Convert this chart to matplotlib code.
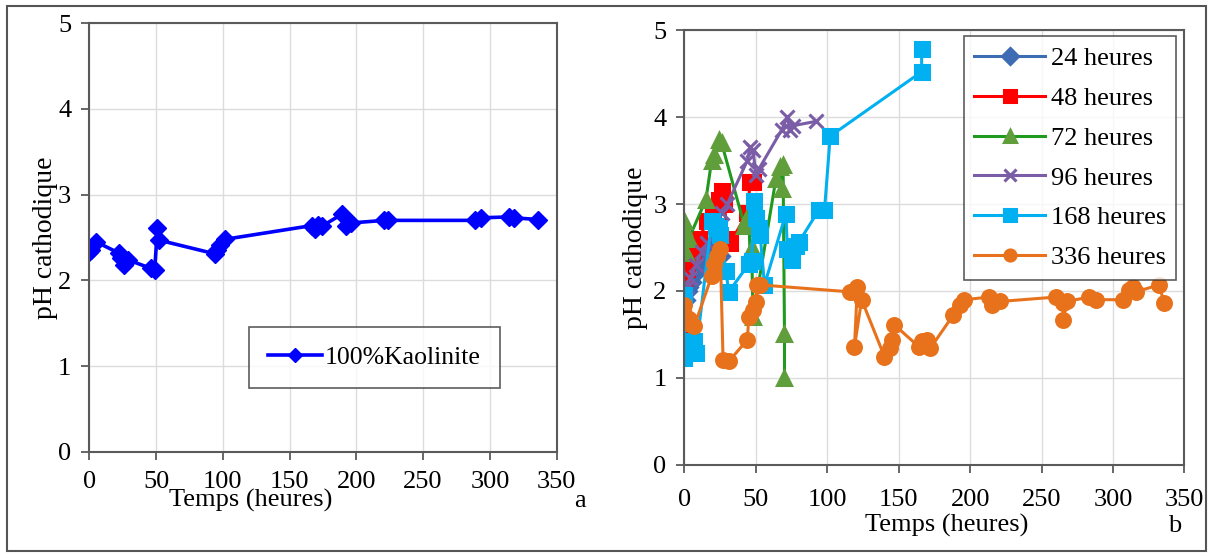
import matplotlib.pyplot as plt
from matplotlib.patches import Rectangle

plt.rcParams['font.family'] = ['Liberation Serif', 'DejaVu Serif']

# panel a : 100% kaolinite
kao_t = [0, 1, 5, 22, 24, 26, 29, 46, 49, 51, 52, 94, 96, 98, 102, 167, 169, 171, 174,
         189, 192, 196, 221, 224, 289, 293, 314, 318, 336]
kao_ph = [2.33, 2.36, 2.45, 2.32, 2.26, 2.18, 2.24, 2.14, 2.12, 2.61, 2.47, 2.31, 2.36, 2.41,
          2.48, 2.64, 2.60, 2.65, 2.63, 2.77, 2.64, 2.67, 2.70, 2.70, 2.70, 2.73, 2.74, 2.73, 2.71]

# panel b : durations
t24 = [0, 1, 2, 4, 6, 10, 14, 18, 20, 22, 24]
ph24 = [1.9, 2.0, 2.05, 2.1, 2.2, 2.3, 2.4, 2.5, 2.35, 2.3, 2.4]

t48 = [0, 0, 2, 4, 6, 10, 16, 20, 24, 26, 28, 30, 32, 44, 46, 48]
ph48 = [1.45, 2.1, 2.25, 2.4, 2.45, 2.6, 2.8, 2.9, 3.05, 3.15, 3.0, 2.6, 2.55, 2.9, 3.25, 3.25]

t72 = [0, 0, 1, 1, 3, 15, 19, 21, 24, 26, 42, 43, 45, 46, 47, 48, 64, 67, 68, 69, 70, 70]
ph72 = [2.8, 2.72, 2.64, 2.44, 2.6, 3.05, 3.5, 3.56, 3.74, 3.7, 2.75, 2.82, 2.88, 2.36, 2.5, 1.7,
        3.29, 3.42, 3.17, 3.45, 1.5, 1.0]

t96 = [0, 2, 4, 8, 12, 16, 22, 26, 30, 44, 46, 48, 50, 52, 68, 72, 74, 76, 92]
ph96 = [2.0, 2.05, 2.15, 2.3, 2.45, 2.55, 2.7, 2.9, 3.0, 3.5, 3.66, 3.62, 3.33, 3.4, 3.85, 4.0,
        3.85, 3.9, 3.95]

t168 = [0, 0, 1, 2, 7, 8, 19, 22, 24, 25, 29, 31, 45, 47, 49, 50, 52, 53, 56, 71, 72, 75, 78,
        80, 94, 98, 102, 166, 166]
ph168 = [1.95, 1.23, 1.42, 1.3, 1.42, 1.29, 2.8, 2.75, 2.72, 2.64, 2.23, 1.99, 2.31, 2.35, 3.03,
         2.84, 2.72, 2.64, 2.07, 2.89, 2.48, 2.36, 2.52, 2.56, 2.93, 2.93, 3.78, 4.52, 4.78]

t336 = [0, 0, 3, 4, 7, 19, 21, 23, 25, 27, 31, 44, 45, 48, 50, 51, 53, 116, 119, 121, 119, 124,
        140, 144, 145, 147, 164, 166, 170, 172, 188, 193, 196, 213, 215, 221, 260, 265, 265, 268,
        283, 288, 307, 311, 314, 316, 332, 336]
ph336 = [1.84, 1.74, 1.68, 1.62, 1.6, 2.17, 2.31, 2.4, 2.48, 1.21, 1.19, 1.44, 1.7, 1.78, 1.87,
         2.07, 2.07, 1.99, 1.99, 2.05, 1.36, 1.9, 1.245, 1.34, 1.44, 1.61, 1.36, 1.42, 1.44, 1.34,
         1.72, 1.84, 1.9, 1.93, 1.84, 1.88, 1.93, 1.86, 1.67, 1.88, 1.93, 1.9, 1.9, 2.01, 2.05,
         1.99, 2.07, 1.86]

series_b = [
    (t24, ph24, '24 heures', '#3d6cb4', 'D', '#3d6cb4'),
    (t48, ph48, '48 heures', '#ff0000', 's', '#ff0000'),
    (t72, ph72, '72 heures', '#1f9a1f', '^', '#5f9e3a'),
    (t96, ph96, '96 heures', '#7b5ca6', 'x', '#7b5ca6'),
    (t168, ph168, '168 heures', '#00b0f0', 's', '#00b0f0'),
    (t336, ph336, '336 heures', '#e8721c', 'o', '#e8721c'),
]

fs = 19
fig = plt.figure(figsize=(12.13, 5.58), dpi=100)
fig.patches.append(Rectangle((0.006, 0.013), 0.988, 0.976, transform=fig.transFigure,
                             fill=False, ec='#555555', lw=1.5))


def style(ax, pad):
    ax.set_xlim(0, 350)
    ax.set_ylim(0, 5)
    ax.set_xticks(range(0, 351, 50))
    ax.set_yticks(range(0, 6))
    ax.grid(True, color='#dcdcdc', lw=1)
    ax.set_axisbelow(True)
    for s in ax.spines.values():
        s.set_color('#5a5a5a')
        s.set_linewidth(1.5)
    ax.tick_params(direction='out', length=6, width=1.3, color='#5a5a5a',
                   labelsize=fs, pad=7)
    ax.tick_params(axis='x', pad=pad)


ax1 = fig.add_axes([0.0736, 0.1905, 0.3853, 0.7677])
style(ax1, 8)
ax1.plot(kao_t, kao_ph, color='#0000ff', lw=2.6, marker='D', ms=9.5, label='100%Kaolinite')
ax1.set_ylabel('pH cathodique', fontsize=fs + 1, labelpad=0)
ax1.text(0.345, -0.113, 'Temps (heures)', transform=ax1.transAxes, fontsize=fs,
         ha='center', va='center')
ax1.text(1.05, -0.115, 'a', transform=ax1.transAxes, fontsize=fs, ha='center', va='center')
leg1 = ax1.legend(loc='center', bbox_to_anchor=(0.61, 0.22), fontsize=fs - 0.5, frameon=True,
                  fancybox=False, edgecolor='#333333', borderpad=0.75, handlelength=2.1,
                  handletextpad=0.1, borderaxespad=0, markerscale=0.75)
leg1.get_frame().set_linewidth(1.2)

ax2 = fig.add_axes([0.5643, 0.1667, 0.4122, 0.7795])
style(ax2, 11)
for t, ph, lab, col, mk, mfc in series_b:
    ax2.plot(t, ph, color=col, lw=2.2, marker=mk, ms=10, mfc=mfc, mec=mfc, mew=2.2, label=lab)
ax2.set_ylabel('pH cathodique', fontsize=fs + 1, labelpad=4)
ax2.text(0.525, -0.14, 'Temps (heures)', transform=ax2.transAxes, fontsize=fs,
         ha='center', va='center')
ax2.text(0.98, -0.14, 'b', transform=ax2.transAxes, fontsize=fs, ha='center', va='center')
leg2 = ax2.legend(loc='upper right', bbox_to_anchor=(0.984, 0.986), fontsize=fs, frameon=True,
                  fancybox=False, edgecolor='#333333', borderpad=0.4, labelspacing=0.62,
                  handlelength=2.7, handletextpad=0.2, borderaxespad=0, markerscale=0.8)
leg2.get_frame().set_linewidth(1.2)

fig.savefig('out.png', dpi=100)
